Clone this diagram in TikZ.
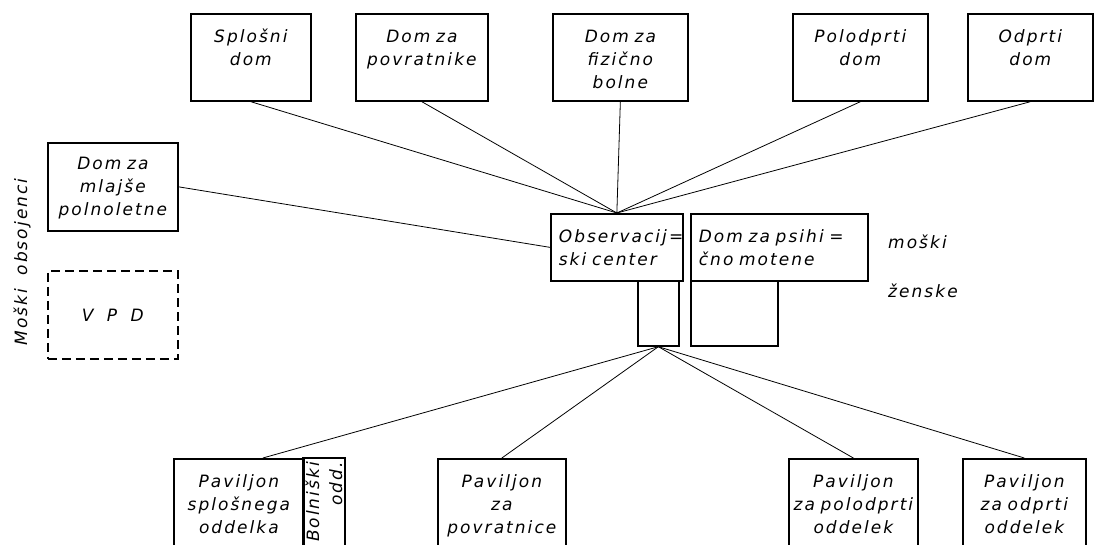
\documentclass[tikz,border=0pt]{standalone}
\usepackage{fontspec}
\usetikzlibrary{calc}
\newfontfamily\tech{DejaVu Sans}[LetterSpace=12, WordSpace=1.8]
\tikzset{
  hut/.style={draw, line width=1.7pt, inner sep=0pt, anchor=north west,
              align=center, text height=29pt},
  foot/.style={draw, line width=1.7pt, inner sep=0pt, anchor=north west},
  wire/.style={line width=0.8pt},
  lbl/.style={inner sep=0pt, anchor=base west},
}
\begin{document}
\begin{tikzpicture}[x=1pt, y=-1pt, font=\tech\itshape\fontsize{17}{23}\selectfont]
  \useasboundingbox (0,0) rectangle (1094,544);
  \clip (0,0) rectangle (1094,544);
  % upper row
  \node[hut, text width=120pt, text depth=58pt] (spl) at (190,13) {Splošni\\dom};
  \node[hut, text width=132pt, text depth=58pt] (povr) at (355,13) {Dom za\\povratnike};
  \node[hut, text width=135pt, text depth=58pt] (fiz) at (552,13) {Dom za\\fizično\\bolne};
  \node[hut, text width=135pt, text depth=58pt] (polo) at (792,13) {Polodprti\\dom};
  \node[hut, text width=125pt, text depth=58pt] (odpr) at (967,13) {Odprti\\dom};
  % left side
  \node[hut, text width=130pt, text height=27pt, text depth=61pt] (mlaj) at (47,142) {Dom za\\mlajše\\polnoletne};
  \node[foot, dashed, dash pattern=on 9pt off 5pt, minimum width=130pt, minimum height=88pt] (vpd) at (47,270) {V P D};
  \node[rotate=90] (mo) at (22,262) {Moški obsojenci};
  % centre
  \node[hut, align=left, inner xsep=8pt, text width=116pt, text depth=38pt] (obs) at (550,213) {Observacij=\\ski center};
  \node[foot, minimum width=41pt, minimum height=65pt] (obsf) at (637,280) {};
  \node[hut, align=left, inner xsep=8pt, text width=161pt, text depth=38pt] (psi) at (690,213) {Dom za psihi =\\čno motene};
  \node[foot, minimum width=87pt, minimum height=65pt] (psif) at (690,280) {};
  \node[lbl] (mos) at (888,248) {moški};
  \node[lbl] (zen) at (888,297) {ženske};
  % lower row
  \node[hut, text width=130pt, text depth=71pt] (pspl) at (173,458) {Paviljon\\splošnega\\oddelka};
  \node[draw, line width=1.7pt, rotate=90, align=right, inner xsep=4pt, inner ysep=0pt,
        text width=92pt, minimum height=42pt] (bol) at (324,508) {Bolniški\\odd.};
  \node[hut, text width=128pt, text depth=71pt] (ppov) at (437,458) {Paviljon\\za\\povratnice};
  \node[hut, text width=129pt, text depth=71pt] (ppol) at (788,458) {Paviljon\\za polodprti\\oddelek};
  \node[hut, text width=123pt, text depth=71pt] (podp) at (962,458) {Paviljon\\za odprti\\oddelek};
  % connectors
  \foreach \n in {spl,povr,fiz,polo,odpr}
    \draw[wire] (\n.south) -- (obs.north);
  \draw[wire] (mlaj.east) -- (obs.west);
  \draw[wire] (obsf.south) -- ($(pspl.north)+(24,0)$);
  \foreach \n in {ppov,ppol,podp}
    \draw[wire] (obsf.south) -- (\n.north);
\end{tikzpicture}
\end{document}
